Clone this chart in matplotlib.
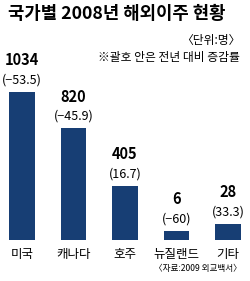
import numpy as np
import matplotlib
matplotlib.use("Agg")
import matplotlib.pyplot as plt

plt.rcParams['font.family'] = ['Noto Sans CJK KR', 'DejaVu Sans']

categories = ['미국', '캐나다', '호주', '뉴질랜드', '기타']
values = [1034, 820, 405, 6, 28]
changes = ['−53.5', '−45.9', '16.7', '−60', '33.3']
title = '국가별 2008년 해외이주 현황'
unit_note = '〈단위:명〉'
change_note = '※괄호 안은 전년 대비 증감률'
source_note = '〈자료:2009 외교백서〉'

BAR_COLOR = '#173e74'

# The original graphic is not drawn to a strictly linear scale:
# small values get a minimum visible height, large ones grow faster.
_grid = np.linspace(0, 2000, 20001)
def _fwd(v):
    v = np.clip(np.asarray(v, dtype=float), 0, None)
    return 14 * (1 - np.exp(-v / 6)) + 0.08 * v + 4.8e-5 * v ** 2
_fgrid = _fwd(_grid)
def _inv(y):
    return np.interp(y, _fgrid, _grid)

fig = plt.figure(figsize=(2.5, 2.81), dpi=100)
ax = fig.add_axes([0.0, 1 - 240 / 281, 1.0, 148 / 281])
ax.set_yscale('function', functions=(_fwd, _inv))
x = np.arange(len(categories))
ax.bar(x, values, width=0.5, color=BAR_COLOR)
ax.set_ylim(0, 1034)
ax.set_xlim(-0.43, 4.43)
ax.axis('off')

for xi, v, c in zip(x, values, changes):
    ax.annotate(f'({c})', (xi, v), xytext=(0, 4), textcoords='offset points',
                ha='center', va='bottom', fontsize=9)
    ax.annotate(f'{v}', (xi, v), xytext=(0, 17), textcoords='offset points',
                ha='center', va='bottom', fontsize=10.5, fontweight='bold')
    ax.annotate(categories[xi], (xi, 0), xytext=(0, -6), textcoords='offset points',
                ha='center', va='top', fontsize=9)

fig.text(8 / 250, 1 - 14 / 281, title, fontsize=12.8, fontweight='bold', va='center', ha='left')
fig.text(240 / 250, 1 - 40 / 281, unit_note, fontsize=8.5, va='center', ha='right')
fig.text(240 / 250, 1 - 58 / 281, change_note, fontsize=8.5, va='center', ha='right')
fig.text(242 / 250, 1 - 268 / 281, source_note, fontsize=6.2, va='center', ha='right')

fig.savefig('out.png', dpi=100)
